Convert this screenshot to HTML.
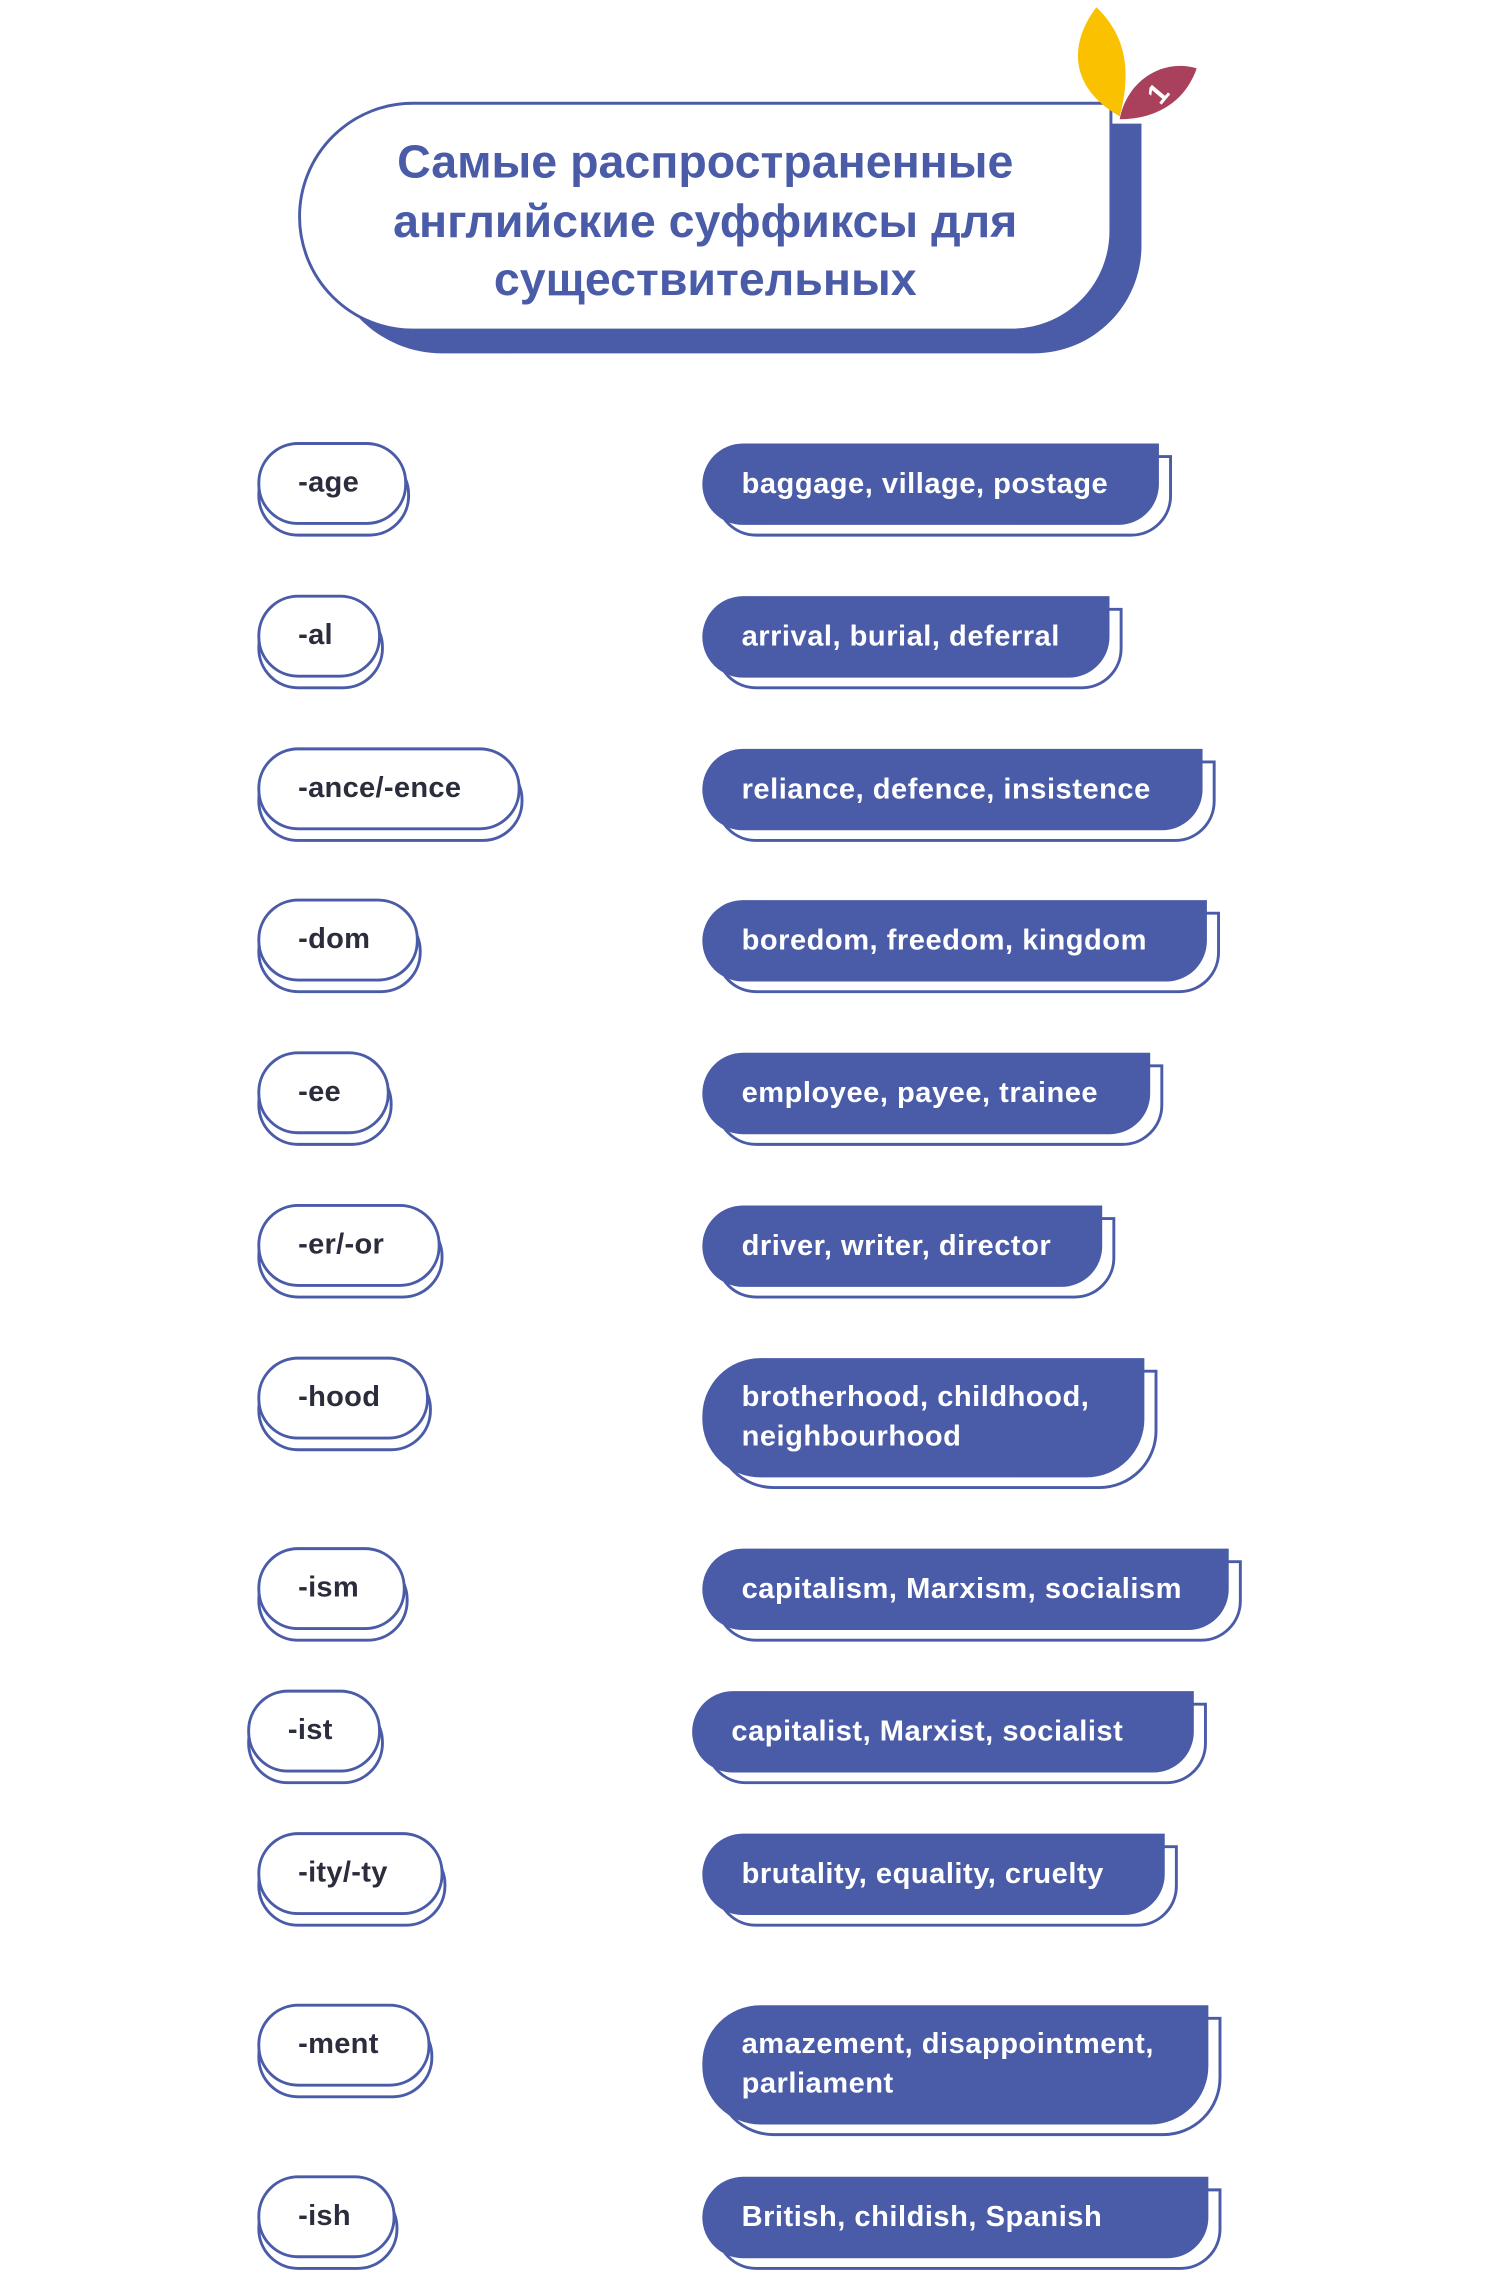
<!DOCTYPE html>
<html><head><meta charset="utf-8"><style>
html,body{margin:0;padding:0;background:#fff;}
body{width:1489px;height:2260px;overflow:hidden;position:relative;}
#c{position:absolute;left:0;top:0;width:1024px;height:1554px;transform:scale(1.4541);transform-origin:0 0;font-family:"Liberation Sans","DejaVu Sans",sans-serif;}
.a{position:absolute;box-sizing:border-box;}
.lp{border:2px solid #4a5ba8;background:#fff;border-radius:28px;}
.lt{position:absolute;font-size:20px;font-weight:bold;color:#2c2d3c;line-height:55px;padding-left:28px;white-space:nowrap;letter-spacing:0.2px;}
.rp{background:#4a5ba8;border-radius:28px 0 28px 28px;}
.rs{border:2px solid #4a5ba8;background:#fff;border-radius:28px 0 28px 28px;}
.rt{color:#fff;font-size:20px;font-weight:bold;padding-left:27px;display:flex;align-items:center;line-height:27px;white-space:nowrap;letter-spacing:0.35px;}
</style></head><body><div id="c">
<div class="a" style="left:225px;top:85px;width:560px;height:158px;background:#4a5ba8;border-radius:80px 0 75px 80px;"></div>
<div class="a" style="left:205px;top:70px;width:560px;height:158px;background:#fff;border:2px solid #4a5ba8;border-radius:80px 0 70px 80px;"></div>
<div class="a" style="left:195px;top:91px;width:580px;text-align:center;color:#4a5ba8;font-weight:bold;font-size:32px;line-height:40.5px;">Самые распространенные<br>английские суффиксы для<br>существительных</div>
<svg class="a" style="left:730px;top:0" width="100" height="90" viewBox="0 0 100 90">
<path d="M24 5 C5 30 5 60 40 80 C48 50 45 25 24 5Z" fill="#f9c100"/>
<path d="M93 47 C70 40 45 55 40 82 C65 82 85 70 93 47Z" fill="#a9405c"/>
<text x="62" y="72" font-family="Liberation Sans,sans-serif" font-weight="bold" font-size="20" fill="#fff" transform="rotate(-50 66 66)">1</text>
</svg>
<div id="rows"></div>
</div>
<script>
var rows=[
[334,"-age",280,"baggage, village, postage",797,0,0],
[439,"-al",262,"arrival, burial, deferral",763,0,0],
[544,"-ance/-ence",358,"reliance, defence, insistence",827,0,0],
[648,"-dom",288,"boredom, freedom, kingdom",830,0,0],
[753,"-ee",268,"employee, payee, trainee",791,0,0],
[858,"-er/-or",303,"driver, writer, director",758,0,0],
[963,"-hood",295,"brotherhood, childhood,<br>neighbourhood",787,1,0],
[1094,"-ism",279,"capitalism, Marxism, socialism",845,0,0],
[1192,"-ist",262,"capitalist, Marxist, socialist",821,0,-7],
[1290,"-ity/-ty",305,"brutality, equality, cruelty",801,0,0],
[1408,"-ment",296,"amazement, disappointment,<br>parliament",831,1,0],
[1526,"-ish",272,"British, childish, Spanish",831,0,0]];
var h="";
rows.forEach(function(r){
var cy=r[0],dx=r[6],L=177+dx,R=483+dx;
var lt=cy-30;
h+='<div class="a lp" style="left:'+L+'px;top:'+(lt+8)+'px;width:'+(r[2]-L+2)+'px;height:57px"></div>';
h+='<div class="a lp" style="left:'+L+'px;top:'+lt+'px;width:'+(r[2]-L)+'px;height:57px"></div>';
h+='<div class="lt" style="left:'+L+'px;top:'+(lt+1)+'px">'+r[1]+'</div>';
var rh=r[5]?82:56,rtop=cy-29;
var w=r[4]-R;
var rad=r[5]?'40px 0 40px 40px':'28px 0 28px 28px';
h+='<div class="a rs" style="left:'+(R+9)+'px;top:'+(rtop+8)+'px;width:'+w+'px;height:'+rh+'px;border-radius:'+rad+'"></div>';
h+='<div class="a rp rt" style="left:'+R+'px;top:'+rtop+'px;width:'+w+'px;height:'+rh+'px;border-radius:'+rad+'">'+r[3]+'</div>';
});
document.getElementById("rows").innerHTML=h;
</script>
</body></html>
